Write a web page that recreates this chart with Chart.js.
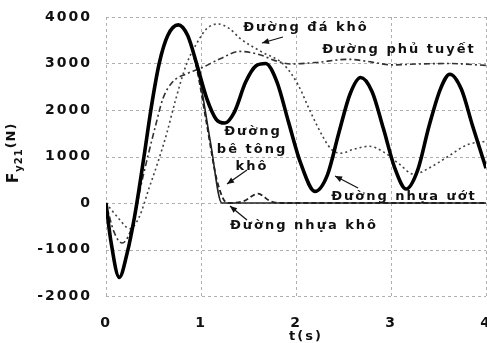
<!DOCTYPE html>
<html><head><meta charset="utf-8">
<script src="https://cdn.jsdelivr.net/npm/chart.js@4/dist/chart.umd.min.js"></script>
<style>html,body{margin:0;padding:0;background:#fff;overflow:hidden;}</style>
</head><body>
<canvas id="c" width="487" height="343"></canvas>
<script>
// ---- data ----
const xTicks = [0, 1, 2, 3, 4];
const yTicks = [-2000, -1000, 0, 1000, 2000, 3000, 4000];

// Đường nhựa ướt (thick solid)
const tWet = [0,0.05,0.14,0.22,0.3,0.4,0.48,0.56,0.65,0.76,0.86,0.96,1.06,1.16,1.25,1.35,1.47,1.58,1.68,1.8,1.92,2.05,2.2,2.33,2.45,2.57,2.68,2.8,2.92,3.04,3.16,3.28,3.4,3.52,3.62,3.74,3.86,4.0];
const fWet = [0,-800,-1600,-1100,-300,1000,2100,3000,3600,3830,3600,2950,2250,1800,1720,1950,2600,2950,3000,2600,1750,850,250,600,1500,2350,2700,2400,1600,750,300,700,1650,2450,2770,2450,1650,750];

// Đường nhựa khô (thin solid)
const tDryAsph = [0,0.05,0.14,0.22,0.3,0.4,0.48,0.56,0.65,0.76,0.86,0.99,1.1,1.22,2.0,3.0,4.0];
const fDryAsph = [0,-800,-1600,-1100,-300,1000,2100,3000,3600,3830,3600,2620,1300,0,0,0,0];

// Đường bê tông khô (dashed)
const tConc = [0,0.05,0.14,0.22,0.3,0.4,0.48,0.56,0.65,0.76,0.86,0.96,1.06,1.17,1.28,1.45,1.6,1.73,1.85,3.0,4.0];
const fConc = [0,-800,-1600,-1100,-300,1000,2100,3000,3600,3830,3600,2850,1700,470,0,40,200,40,0,0,0];

// Đường phủ tuyết (dash-dot)
const tSnow = [0,0.08,0.17,0.29,0.36,0.44,0.52,0.6,0.7,0.85,1.0,1.2,1.41,1.6,1.8,1.95,2.2,2.55,2.8,3.0,3.3,3.6,4.0];
const fSnow = [0,-600,-860,-400,300,1000,1650,2250,2600,2780,2900,3100,3260,3200,3050,2990,3020,3090,3030,2970,2990,3000,2960];

// Đường đá khô (dotted)
const tStone = [0,0.12,0.25,0.35,0.45,0.55,0.64,0.73,0.85,0.96,1.06,1.18,1.3,1.41,1.63,1.87,2.02,2.15,2.29,2.37,2.47,2.6,2.77,2.92,3.08,3.24,3.4,3.6,3.8,4.0];
const fStone = [0,-300,-550,-300,300,900,1500,2200,3000,3450,3750,3850,3750,3540,3260,2980,2550,1970,1400,1160,1070,1150,1220,1100,850,620,750,1000,1250,1330];

const labelTexts = ["Đường đá khô","Đường phủ tuyết","Đường","bê tông","khô","Đường nhựa ướt","Đường nhựa khô"];

function pts(t, f){ return t.map((x,i)=>({x:x, y:f[i]})); }

// annotation placements (data coordinates)
const labelPos = [[2.105,3763],[3.084,3290],[1.547,1527],[1.537,1140],[1.537,774],[3.137,129],[2.084,-495]];
const arrows = [
  [[1.863,3570],[1.642,3441]],
  [[1.484,710],[1.274,409]],
  [[2.653,323],[2.411,581]],
  [[1.484,-366],[1.305,-65]]
];

const FONT = '"DejaVu Sans", "Liberation Sans", sans-serif';
const SPACING = '2px';

const spacingPlugin = {
  id:'spacing',
  beforeDraw(chart){ chart.ctx.letterSpacing = SPACING; }
};

const gridPlugin = {
  id:'dashgrid',
  beforeDatasetsDraw(chart){
    const ctx = chart.ctx, xs = chart.scales.x, ys = chart.scales.y, a = chart.chartArea;
    ctx.save();
    ctx.strokeStyle = '#b0b0b0';
    ctx.lineWidth = 1;
    ctx.setLineDash([3,3]);
    xTicks.forEach(v=>{
      const p = Math.round(xs.getPixelForValue(v)) + 0.5;
      ctx.beginPath(); ctx.moveTo(p, a.top); ctx.lineTo(p, a.bottom); ctx.stroke();
    });
    yTicks.forEach(v=>{
      const p = Math.round(ys.getPixelForValue(v)) + 0.5;
      ctx.beginPath(); ctx.moveTo(a.left, p); ctx.lineTo(a.right, p); ctx.stroke();
    });
    ctx.restore();
  }
};

const annoPlugin = {
  id:'anno',
  afterDatasetsDraw(chart){
    const ctx = chart.ctx, xs = chart.scales.x, ys = chart.scales.y;
    ctx.save();
    ctx.letterSpacing = SPACING;
    ctx.fillStyle = '#111';
    ctx.font = 'bold 13px ' + FONT;
    ctx.textAlign = 'center';
    ctx.textBaseline = 'middle';
    labelTexts.forEach((s,i)=>{
      ctx.fillText(s, xs.getPixelForValue(labelPos[i][0]), ys.getPixelForValue(labelPos[i][1]));
    });
    ctx.strokeStyle = '#111';
    ctx.lineWidth = 1.2;
    arrows.forEach(a=>{
      const x1 = xs.getPixelForValue(a[0][0]), y1 = ys.getPixelForValue(a[0][1]);
      const x2 = xs.getPixelForValue(a[1][0]), y2 = ys.getPixelForValue(a[1][1]);
      ctx.beginPath(); ctx.moveTo(x1,y1); ctx.lineTo(x2,y2); ctx.stroke();
      const ang = Math.atan2(y2-y1, x2-x1), L = 7, W = 3;
      ctx.beginPath();
      ctx.moveTo(x2,y2);
      ctx.lineTo(x2 - L*Math.cos(ang) + W*Math.sin(ang), y2 - L*Math.sin(ang) - W*Math.cos(ang));
      ctx.lineTo(x2 - L*Math.cos(ang) - W*Math.sin(ang), y2 - L*Math.sin(ang) + W*Math.cos(ang));
      ctx.closePath(); ctx.fill();
    });
    // x axis title
    ctx.font = 'bold 13px ' + FONT;
    ctx.fillText('t(s)', xs.getPixelForValue(2) + 10, chart.height - 6);
    // y axis title with subscript
    ctx.translate(14, 183);
    ctx.rotate(-Math.PI/2);
    ctx.textAlign = 'left';
    ctx.textBaseline = 'middle';
    ctx.letterSpacing = '1px';
    ctx.font = 'bold 15px ' + FONT;
    ctx.fillText('F', 0, 0);
    let w = ctx.measureText('F').width;
    ctx.font = 'bold 10px ' + FONT;
    ctx.fillText('y21', w, 5);
    w += ctx.measureText('y21').width;
    ctx.font = 'bold 13px ' + FONT;
    ctx.fillText('(N)', w, -2);
    ctx.restore();
  }
};

new Chart(document.getElementById('c'), {
  type:'line',
  data:{
    datasets:[
      {label:'Đường nhựa ướt', data:pts(tWet,fWet), borderColor:'#000', borderWidth:3.6, cubicInterpolationMode:'monotone', pointRadius:0},
      {label:'Đường nhựa khô', data:pts(tDryAsph,fDryAsph), borderColor:'#222', borderWidth:1.6, cubicInterpolationMode:'monotone', pointRadius:0},
      {label:'Đường bê tông khô', data:pts(tConc,fConc), borderColor:'#222', borderWidth:1.8, borderDash:[5,3], cubicInterpolationMode:'monotone', pointRadius:0},
      {label:'Đường phủ tuyết', data:pts(tSnow,fSnow), borderColor:'#333', borderWidth:1.6, borderDash:[6,3,2,3], cubicInterpolationMode:'monotone', pointRadius:0},
      {label:'Đường đá khô', data:pts(tStone,fStone), borderColor:'#444', borderWidth:1.6, borderDash:[2,3], cubicInterpolationMode:'monotone', pointRadius:0}
    ]
  },
  options:{
    responsive:false, animation:false, devicePixelRatio:1,
    layout:{padding:{top:17,right:1,left:0,bottom:0}, autoPadding:false},
    plugins:{legend:{display:false}, tooltip:{enabled:false}},
    scales:{
      x:{type:'linear', min:0, max:4,
        afterBuildTicks(s){ s.ticks = xTicks.map(v=>({value:v})); },
        afterFit(s){ s.height = 47; s.paddingLeft = 0; s.paddingRight = 0; },
        grid:{display:false}, border:{display:false},
        ticks:{color:'#111', font:{family:FONT, size:14, weight:'bold'}, padding:11, maxRotation:0,
          callback:(v)=>String(v)}
      },
      y:{min:-2000, max:4000,
        afterBuildTicks(s){ s.ticks = yTicks.map(v=>({value:v})); },
        afterFit(s){ s.width = 106; s.paddingTop = 0; s.paddingBottom = 0; },
        grid:{display:false}, border:{display:false},
        ticks:{color:'#111', font:{family:FONT, size:14, weight:'bold'}, padding:6,
          callback:(v)=>String(v)}
      }
    }
  },
  plugins:[spacingPlugin, gridPlugin, annoPlugin]
});
</script>
</body></html>
